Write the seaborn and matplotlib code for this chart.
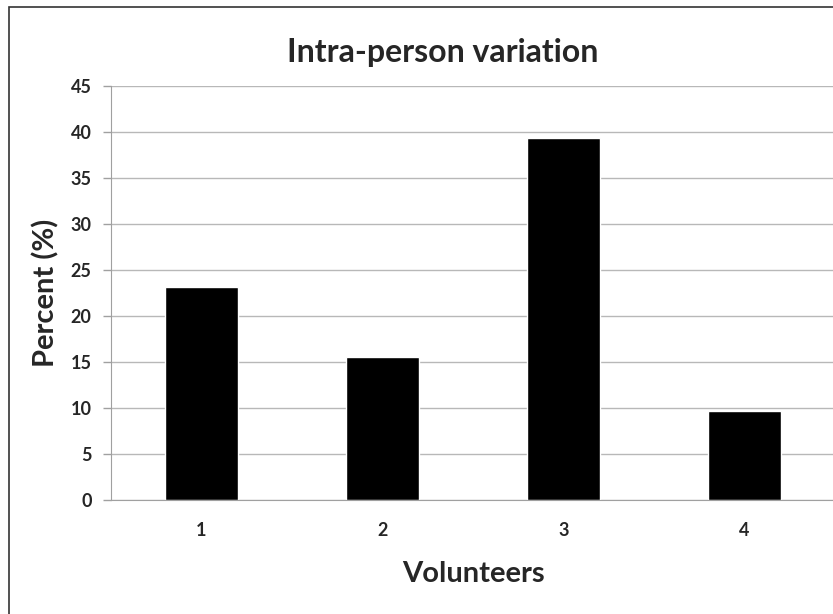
import matplotlib
matplotlib.use("Agg")
import matplotlib.pyplot as plt
import seaborn as sns
import pandas as pd
from matplotlib.patches import Rectangle

# --- data ---
volunteers = ["1", "2", "3", "4"]
percent = [23.1, 15.5, 39.3, 9.7]
y_ticks = [0, 5, 10, 15, 20, 25, 30, 35, 40, 45]

df = pd.DataFrame({"Volunteers": volunteers, "Percent": percent})

sns.set_style("white")
plt.rcParams["font.family"] = ["Lato", "DejaVu Sans"]

fig = plt.figure(figsize=(8.33, 6.14), dpi=100)
ax = fig.add_axes([111 / 833, 114 / 614, 724 / 833, 414 / 614])

sns.barplot(data=df, x="Volunteers", y="Percent", color="black",
            width=0.4, saturation=1, ax=ax)

ax.set_xlim(-0.5, len(volunteers) - 0.5)
ax.set_ylim(0, 45)
ax.set_yticks(y_ticks)
ax.yaxis.grid(True, color="#b8b8b8", linewidth=1)
ax.set_axisbelow(True)

for s in ["top", "right"]:
    ax.spines[s].set_visible(False)
ax.spines["left"].set_color("#a0a0a0")
ax.spines["bottom"].set_color("#a0a0a0")

# category boundary ticks like Excel
ax.set_xticks([i - 0.5 for i in range(len(volunteers))], minor=True)
ax.tick_params(axis="x", which="major", length=0, pad=16, labelsize=13)
ax.tick_params(axis="x", which="minor", length=6, color="#a0a0a0", width=1, direction="out")
ax.tick_params(axis="y", length=6, color="#a0a0a0", width=1, pad=8, labelsize=13, left=True)
for lab in ax.get_xticklabels() + ax.get_yticklabels():
    lab.set_fontweight("bold")

ax.set_xlabel("Volunteers", fontsize=21, fontweight="bold", labelpad=16)
ax.set_ylabel("Percent (%)", fontsize=21, fontweight="bold", labelpad=8)
fig.text(0.532, 0.914, "Intra-person variation", ha="center", va="center",
         fontsize=23, fontweight="bold")

# outer chart frame
fig.patches.append(Rectangle((9 / 833, -0.05), 1.2, 1 - 7 / 614 + 0.05,
                             transform=fig.transFigure, fill=False,
                             edgecolor="#333333", linewidth=1.2))

fig.savefig("out.png", dpi=100)
